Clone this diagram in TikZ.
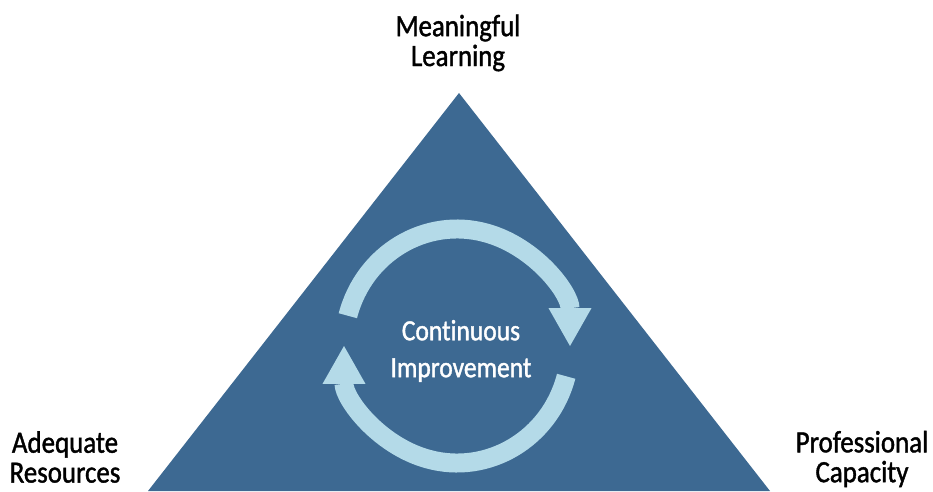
\documentclass[tikz,border=0pt]{standalone}
\usepackage{fontspec}
\setmainfont{Carlito}[FakeStretch=0.87,FakeBold=1.3,Ligatures=CommonOff]
\usepackage{xcolor}
\usetikzlibrary{arrows.meta}
\edef\bandwidth{10.8pt}
\definecolor{slateblue}{RGB}{61,105,146}
\definecolor{paleblue}{RGB}{180,218,232}
\tikzstyle{cornerlabel}=[align=center,inner sep=0pt,font=\fontsize{17.6pt}{17pt}\selectfont]
\tikzstyle{cyclearrow}=[draw=paleblue,line width=\bandwidth,-{Triangle[width=24.4pt,length=21.5pt,line width=0pt]}]

\begin{document}
\begin{tikzpicture}[x=0.02cm,y=0.02cm]
		\useasboundingbox (0,0) rectangle (933,491);
		\coordinate (apex) at (459,398);
		\coordinate (baseL) at (148,0);
		\coordinate (baseR) at (770,0);
		\fill[slateblue] (baseL) -- (apex) -- (baseR) -- cycle;

		\node [cornerlabel] (learning) at (458,448) {Meaningful\\Learning};
		\node [cornerlabel] (resources) at (65,34) {Adequate\\Resources};
		\node [cornerlabel] (capacity) at (862,32) {Professional\\Capacity};

		\coordinate (hub) at (457,145);
		\draw[cyclearrow] ([shift={(165:113 and 117)}]hub) arc[start angle=165,end angle=0,x radius=113,y radius=117];
		\draw[cyclearrow] ([shift={(-15:113 and 117)}]hub) arc[start angle=-15,end angle=-180,x radius=113,y radius=117];
		\node [align=center,inner sep=0pt,text=white,font=\fontsize{16.7pt}{21pt}\selectfont] (improve) at (461,140) {Continuous\\Improvement};
	\end{tikzpicture}
\end{document}
